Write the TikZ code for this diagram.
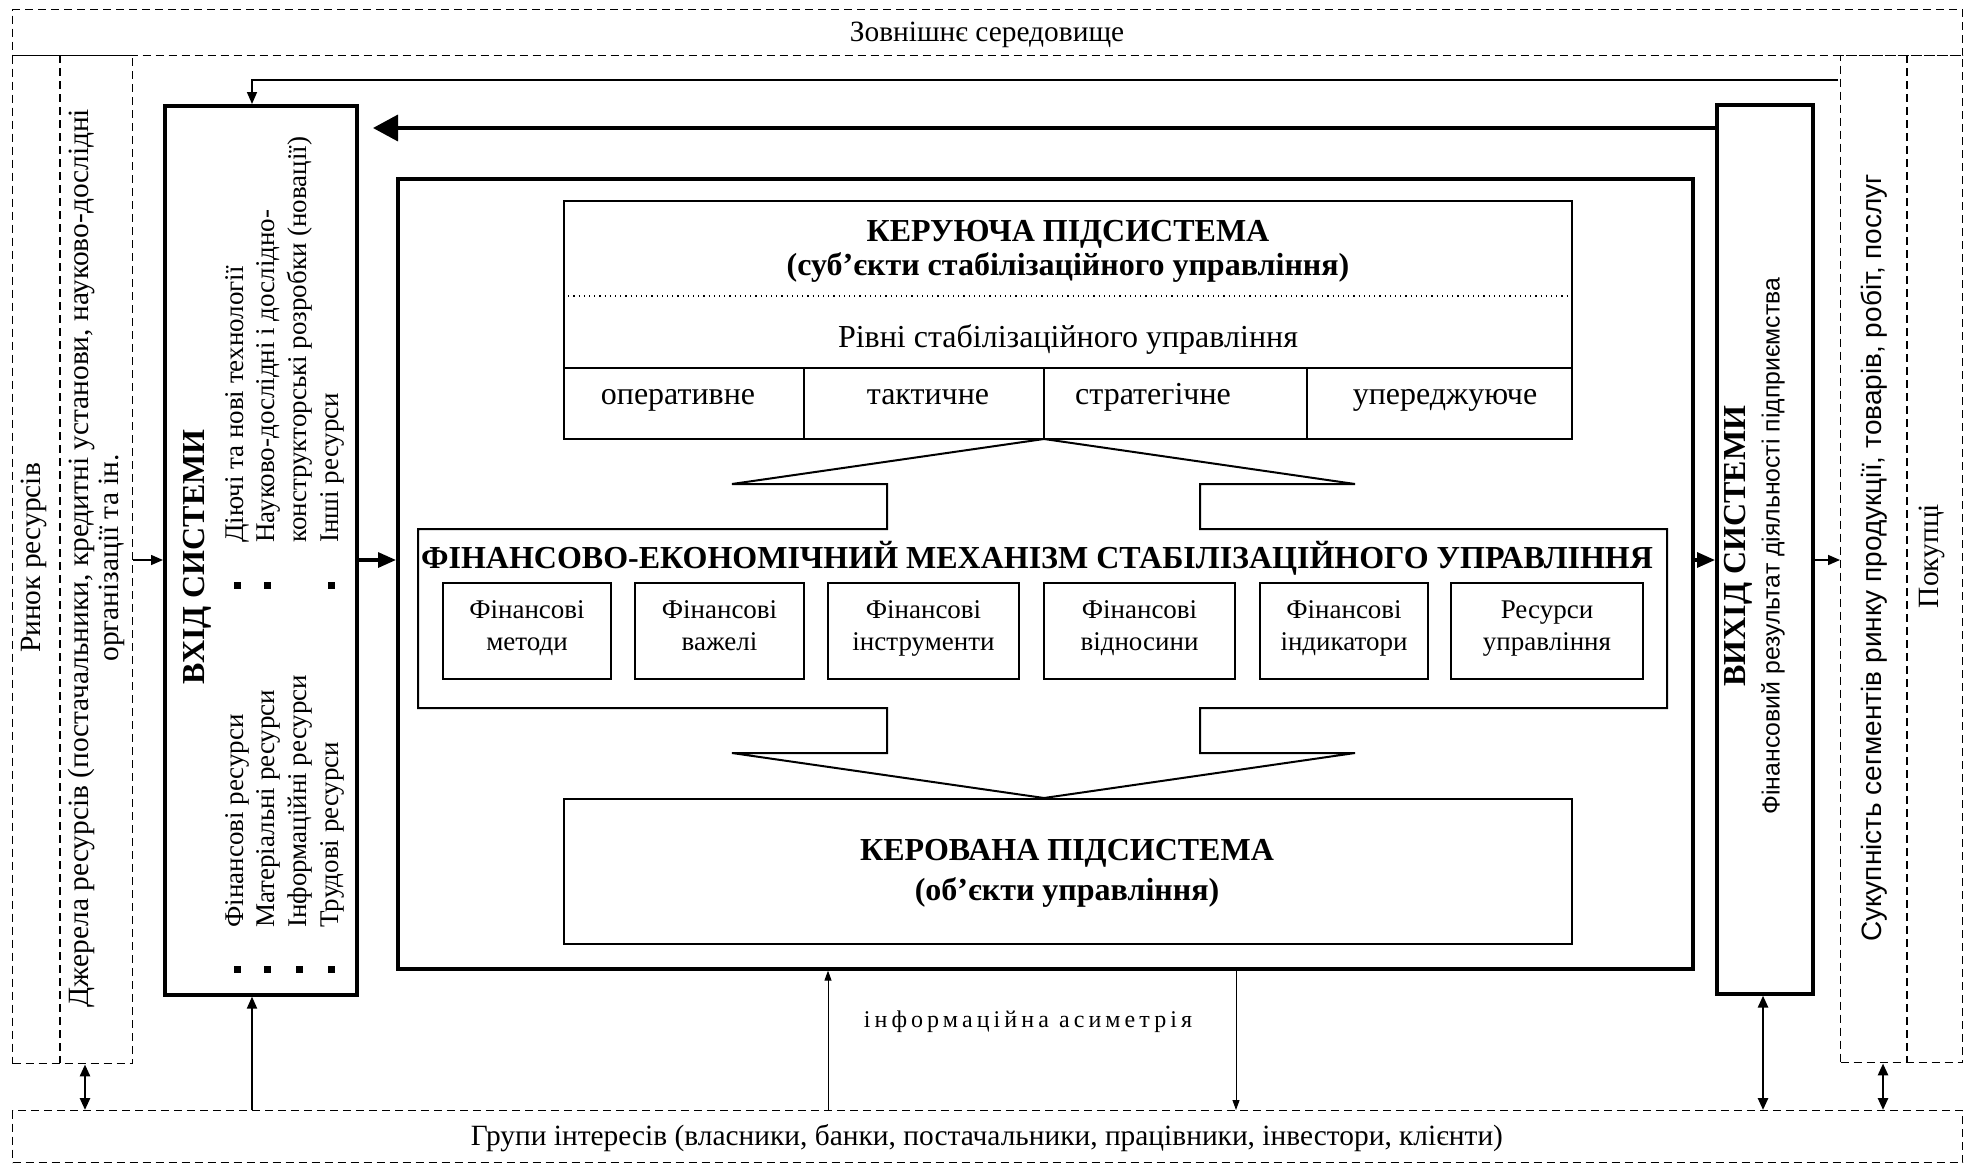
\documentclass[tikz,border=0pt]{standalone}
\usepackage{fontspec}
\setmainfont{Liberation Serif}
\setsansfont{Liberation Sans}
\usetikzlibrary{arrows.meta}
\begin{document}
\begin{tikzpicture}[x=0.5pt,y=-0.5pt,
  dbox/.style={draw, line width=0.7pt, dash pattern=on 4pt off 2.5pt, inner sep=0, anchor=north west},
  dline/.style={line width=0.7pt, dash pattern=on 4pt off 2.5pt},
  tbox/.style={draw, line width=1.8pt, inner sep=0, anchor=north west},
  mbox/.style={draw, line width=1pt, inner sep=0, anchor=north west},
  sbox/.style={draw, line width=0.8pt, inner sep=0, minimum height=48pt},
  slabel/.style={inner sep=0, align=center, font=\fontsize{13.5}{16}\selectfont},
  txt/.style={inner sep=0, font=\fontsize{14.7}{17}\selectfont},
  bigtxt/.style={inner sep=0, anchor=base, font=\fontsize{16}{18}\selectfont},
  bold/.style={inner sep=0, font=\fontsize{16}{18}\selectfont\bfseries},
  item/.style={inner sep=0, rotate=90, anchor=west, font=\fontsize{13.5}{15}\selectfont},
  bul/.style={fill, inner sep=0, minimum size=3.5pt},
  thinarr/.style={line width=0.8pt, -{Triangle[length=6pt,width=5pt]}},
  thickarr/.style={line width=1.6pt, -{Triangle[length=9pt,width=7.5pt]}},
  bigarr/.style={line width=1.8pt, -{Triangle[length=12.5pt,width=13pt]}},
  dblarr/.style={line width=1.3pt, {Triangle[length=6pt,width=5pt]}-{Triangle[length=6pt,width=5pt]}},
  infoarr/.style={line width=0.5pt, -{Triangle[length=5pt,width=3.5pt]}}
]
\useasboundingbox (0,0) rectangle (1968,1167);

% outer environment frame
\node[dbox, minimum width=975pt, minimum height=23pt] (env) at (12,9) {};
\node[txt, anchor=base] (envt) at (987,41) {Зовнішнє середовище};
\node[dbox, minimum width=60pt, minimum height=504pt] (leftcol) at (12,55) {};
\draw[dline] (60,55) -- (60,1063);
\node[dbox, minimum width=61pt, minimum height=503.5pt] (rightcol) at (1840,55) {};
\draw[dline] (1907,55) -- (1907,1062);
\node[dbox, minimum width=975pt, minimum height=26pt] (groups) at (12,1110) {};
\node[txt, anchor=base] (groupst) at (987,1145) {Групи інтересів (власники, банки, постачальники, працівники, інвестори, клієнти)};

\node[txt, rotate=90] (rynok) at (34,558) {Ринок ресурсів};
\node[txt, rotate=90, align=center, font=\fontsize{14.7}{15}\selectfont] (dzh) at (96,558) {Джерела ресурсів (постачальники, кредитні установи, науково-дослідні\\організації та ін.};
\node[txt, rotate=90] (pokuptsi) at (1932,556) {Покупці};
\node[txt, rotate=90, font=\sffamily\fontsize{14}{16}\selectfont] (sukup) at (1874,558) {Сукупність сегментів ринку продукції, товарів, робіт, послуг};

% input box
\node[tbox, minimum width=96pt, minimum height=444.5pt] (vhid) at (163,104) {};
\node[bold, rotate=90] (vhidt) at (197,557) {ВХІД СИСТЕМИ};
\node[item] (i1) at (237,928) {Фінансові ресурси};
\node[item] (i2) at (268,928) {Матеріальні ресурси};
\node[item] (i3) at (300,928) {Інформаційні ресурси};
\node[item] (i4) at (332,928) {Трудові ресурси};
\node[bul] (b1) at (237,969) {};
\node[bul] (b2) at (267,969) {};
\node[bul] (b3) at (299,969) {};
\node[bul] (b4) at (331,969) {};
\node[item] (j1) at (237,543) {Діючі та нові технології};
\node[item] (j2) at (268,543) {Науково-дослідні і дослідно-};
\node[item] (j3) at (300,543) {конструкторські розробки (новації)};
\node[item] (j4) at (332,543) {Інші ресурси};
\node[bul] (c1) at (237,585) {};
\node[bul] (c2) at (267,585) {};
\node[bul] (c4) at (331,585) {};

% output box
\node[tbox, minimum width=48pt, minimum height=444.5pt] (vyhid) at (1715,103) {};
\node[bold, rotate=90] (vyhidt) at (1738,546) {ВИХІД СИСТЕМИ};
\node[inner sep=0, rotate=90, font=\sffamily\fontsize{12.4}{14}\selectfont] (finres) at (1773,546) {Фінансовий результат діяльності підприємства};

% main box
\node[tbox, minimum width=647.5pt, minimum height=395pt] (main) at (396,177) {};

% control subsystem
\node[mbox, minimum width=504pt, minimum height=119pt] (ker) at (563,200) {};
\node[bold, anchor=base] (kert1) at (1068,241) {КЕРУЮЧА ПІДСИСТЕМА};
\node[bold, anchor=base] (kert2) at (1068,275) {(суб’єкти стабілізаційного управління)};
\draw[line width=0.6pt, dotted] (ker.west |- 0,296) -- (ker.east |- 0,296);
\node[bigtxt] (rivni) at (1068,347) {Рівні стабілізаційного управління};
\draw[line width=0.8pt] (ker.west |- 0,368) -- (ker.east |- 0,368);
\draw[line width=0.8pt] (804,368) -- (804,438);
\draw[line width=0.8pt] (1044,368) -- (1044,438);
\draw[line width=0.8pt] (1307,368) -- (1307,438);
\node[bigtxt] (l1) at (678,404) {оперативне};
\node[bigtxt] (l2) at (928,404) {тактичне};
\node[bigtxt] (l3) at (1153,404) {стратегічне};
\node[bigtxt] (l4) at (1445,404) {упереджуюче};

% mechanism with hollow arrows
\draw[line width=1pt, line join=miter] (887,529) -- (887,484) -- (732,484) -- (1044,439) -- (1355,484) -- (1200,484) -- (1200,529)
  -- (1667,529) -- (1667,708) -- (1200,708) -- (1200,753) -- (1355,753) -- (1044,798) -- (732,753) -- (887,753) -- (887,708)
  -- (418,708) -- (418,529) -- cycle;
\node[bold, anchor=base] (mecht) at (1037,568) {ФІНАНСОВО-ЕКОНОМІЧНИЙ МЕХАНІЗМ СТАБІЛІЗАЦІЙНОГО УПРАВЛІННЯ};
\node[sbox, minimum width=84pt] (f1) at (527,631) {};
\node[sbox, minimum width=84.5pt] (f2) at (719.5,631) {};
\node[sbox, minimum width=95.5pt] (f3) at (923.5,631) {};
\node[sbox, minimum width=95.5pt] (f4) at (1139.5,631) {};
\node[sbox, minimum width=84pt] (f5) at (1344,631) {};
\node[sbox, minimum width=96pt] (f6) at (1547,631) {};
\node[slabel] (f1t) at (527,628) {Фінансові\strut\\методи\strut};
\node[slabel] (f2t) at (719.5,628) {Фінансові\strut\\важелі\strut};
\node[slabel] (f3t) at (923.5,628) {Фінансові\strut\\інструменти\strut};
\node[slabel] (f4t) at (1139.5,628) {Фінансові\strut\\відносини\strut};
\node[slabel] (f5t) at (1344,628) {Фінансові\strut\\індикатори\strut};
\node[slabel] (f6t) at (1547,628) {Ресурси\strut\\управління\strut};

% managed subsystem
\node[mbox, minimum width=504pt, minimum height=72.5pt] (kerov) at (563,798) {};
\node[bold, anchor=base] (kerovt1) at (1067,860) {КЕРОВАНА ПІДСИСТЕМА};
\node[bold, anchor=base] (kerovt2) at (1067,900) {(об’єкти управління)};

% information asymmetry
\node[inner sep=0, anchor=base, font=\fontsize{12}{14}\selectfont\addfontfeatures{LetterSpace=17}] (info) at (1028,1027) {інформаційна асиметрія};

% coordinates
\coordinate (fbstart) at (1838,80);
\coordinate (c252) at (252,0);
\coordinate (c85) at (85,0);
\coordinate (c828) at (828,0);
\coordinate (c1236) at (1236,0);
\coordinate (c1763) at (1763,0);
\coordinate (c1883) at (1883,0);
\coordinate (ymid) at (0,560);
\coordinate (y128) at (0,128);
\coordinate (bigtip) at (373,128);

% connectors
\draw[thinarr] (fbstart) -| (c252 |- vhid.north);
\draw[bigarr] (vyhid.west |- y128) -- (bigtip);
\draw[thinarr] (leftcol.east |- ymid) -- (vhid.west |- ymid);
\draw[thickarr] (vhid.east |- ymid) -- (main.west |- ymid);
\draw[thickarr] (main.east |- ymid) -- (vyhid.west |- ymid);
\draw[thinarr] (vyhid.east |- ymid) -- (rightcol.west |- ymid);
\draw[dblarr] (c85 |- leftcol.south) -- (c85 |- groups.north);
\draw[thinarr, line width=1pt] (c252 |- groups.north) -- (c252 |- vhid.south);
\draw[infoarr] (c828 |- groups.north) -- (c828 |- main.south);
\draw[infoarr] (c1236 |- main.south) -- (c1236 |- groups.north);
\draw[dblarr] (c1763 |- groups.north) -- (c1763 |- vyhid.south);
\draw[dblarr] (c1883 |- groups.north) -- (c1883 |- rightcol.south);
\end{tikzpicture}
\end{document}
